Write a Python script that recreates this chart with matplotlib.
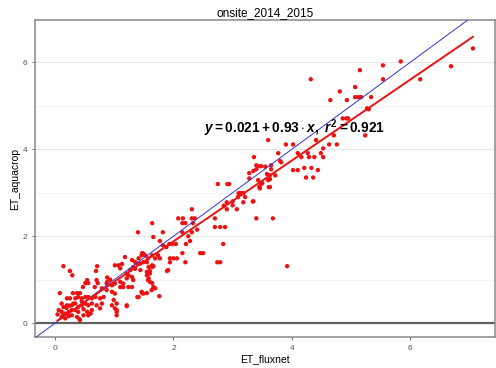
import numpy as np
import matplotlib
matplotlib.use("Agg")
import matplotlib.pyplot as plt

plt.rcParams['font.family'] = ['Liberation Sans', 'DejaVu Sans']
plt.rcParams['mathtext.fontset'] = 'custom'
plt.rcParams['mathtext.rm'] = 'Liberation Sans:bold'
plt.rcParams['mathtext.it'] = 'Liberation Sans:italic:bold'
plt.rcParams['mathtext.bf'] = 'Liberation Sans:bold'

title = "onsite_2014_2015"
xlabel = "ET_fluxnet"
ylabel = "ET_aquacrop"

# ET_fluxnet (x) and ET_aquacrop (y)
et_flux = [
    # upper part
    7.06, 6.69, 5.84, 5.54, 5.54, 6.17, 5.15, 4.32, 4.81, 5.07, 5.07, 5.12, 5.17, 5.34, 4.93, 4.65,
    5.27, 5.30, 4.86, 4.92, 4.95, 5.24, 4.71,
    3.60, 3.90, 4.02, 4.41, 4.63, 4.76, 4.53, 3.77, 4.10, 4.27, 4.29, 4.49, 4.53, 4.38, 4.16, 3.36,
    3.82, 3.43, 3.48, 3.55, 4.02, 4.10, 4.21, 4.33, 4.44, 3.28, 3.35, 3.63, 3.72, 4.24, 4.36,
    3.40, 3.40, 3.65, 3.65, 3.80, 3.28, 3.58, 3.63, 3.60, 3.43, 3.46, 3.48, 3.63, 3.13, 3.18, 3.21,
    3.18, 3.35, 3.07, 3.40, 3.68, 3.00, 3.92, 3.34, 3.45, 3.61,
    # middle part
    2.75, 2.91, 2.94, 3.50, 3.10, 2.85, 2.90, 2.31, 2.08, 2.15, 2.20, 2.16, 2.31, 2.33, 2.36, 2.70,
    1.64, 2.70, 2.79, 2.87, 1.82, 2.15, 2.31, 1.66, 2.28, 1.77, 1.93, 1.98, 2.04, 2.21, 2.84, 1.82,
    1.88, 1.47, 1.52, 2.15, 2.45, 2.50, 1.77, 1.94, 2.00, 2.06, 2.20, 2.74, 2.79, 1.94, 1.64, 1.66,
    1.44, 1.89, 1.60, 1.55, 1.57, 1.64, 1.69, 1.40, 1.91, 1.76, 1.47, 1.55, 1.39, 1.64, 3.00, 3.09,
    3.16, 2.90, 1.49, 1.55, 1.57, 1.64, 2.25, 2.40,
    # x 0.8 - 1.8
    1.01, 1.07, 1.13, 1.10, 1.30, 1.35, 1.41, 1.46, 1.49, 1.44, 1.38, 1.32, 1.27, 1.21, 1.18, 1.21,
    1.30, 1.32, 1.10, 1.15, 1.01, 0.96, 0.87, 1.10, 1.15, 1.24, 1.30, 0.96, 1.01, 0.87, 0.79, 0.99,
    1.04, 0.96, 1.01, 1.04, 1.21, 1.58, 1.60, 1.55, 1.58, 1.60, 1.66, 1.63, 1.46, 1.41, 1.49, 1.69,
    1.74, 0.82, 0.76, 0.79, 1.21, 1.04, 1.04, 0.93, 0.88, 0.88, 1.24, 1.35,
    # x 0 - 0.8
    0.14, 0.25, 0.29, 0.71, 0.69, 0.08, 0.54, 0.51, 0.47, 0.56, 0.70, 0.72, 0.67, 0.30, 0.37, 0.42,
    0.20, 0.25, 0.34, 0.39, 0.45, 0.51, 0.56, 0.62, 0.68,
    0.11, 0.14, 0.20, 0.28, 0.34, 0.39, 0.45, 0.51, 0.56, 0.62, 0.70,
    0.06, 0.11, 0.17, 0.23, 0.28, 0.34, 0.39, 0.48, 0.54, 0.62, 0.76,
    0.11, 0.17, 0.23, 0.28, 0.37, 0.42, 0.48, 0.56,
    0.04, 0.14, 0.41, 0.60, 0.31, 0.19, 0.45, 0.24,
]
et_aqua = [
    # upper part
    6.32, 5.91, 6.02, 5.93, 5.61, 5.61, 5.82, 5.61, 5.33, 5.43, 5.20, 5.20, 5.20, 5.20, 5.13, 5.13,
    4.94, 4.92, 4.71, 4.71, 4.71, 4.32, 4.32,
    4.21, 4.11, 4.11, 4.21, 4.11, 4.11, 4.02, 3.91, 3.91, 3.91, 3.82, 3.91, 3.82, 3.82, 3.82, 3.82,
    3.70, 3.61, 3.61, 3.60, 3.52, 3.52, 3.57, 3.57, 3.52, 3.45, 3.50, 3.40, 3.40, 3.35, 3.35,
    3.63, 3.54, 3.63, 3.54, 3.73, 3.33, 3.43, 3.31, 3.29, 3.29, 3.10, 3.20, 3.13, 2.99, 2.99, 2.90,
    2.78, 2.80, 2.62, 2.41, 2.41, 2.80, 1.31, 2.80, 3.13, 3.13,
    # middle part
    3.20, 3.20, 3.20, 3.22, 2.99, 2.70, 2.62, 2.62, 2.41, 2.30, 2.30, 2.41, 2.41, 2.30, 2.41, 2.41,
    2.30, 2.21, 2.21, 2.21, 2.09, 2.09, 2.09, 1.98, 1.89, 1.89, 1.82, 1.82, 1.82, 1.82, 1.82, 1.79,
    1.75, 1.61, 1.56, 1.61, 1.61, 1.61, 1.49, 1.49, 1.49, 1.49, 1.40, 1.40, 1.40, 1.40, 1.29, 1.31,
    1.22, 1.20, 1.20, 1.10, 0.99, 0.92, 0.80, 2.09, 1.22, 0.62, 0.69, 0.69, 0.60, 1.33, 2.71, 2.90,
    2.99, 2.78, 1.40, 1.40, 1.49, 1.56, 2.00, 2.15,
    # x 0.8 - 1.8
    1.33, 1.33, 1.36, 1.26, 1.45, 1.41, 1.49, 1.56, 1.60, 1.37, 1.37, 1.29, 1.22, 1.14, 1.52, 1.03,
    1.06, 0.99, 0.95, 0.91, 0.91, 0.87, 0.91, 0.83, 0.83, 0.83, 0.83, 0.72, 0.68, 0.76, 0.80, 0.53,
    0.45, 0.41, 0.34, 0.26, 0.41, 1.29, 1.14, 1.18, 1.03, 0.95, 0.83, 0.76, 0.72, 0.60, 0.68, 1.49,
    1.56, 0.60, 0.57, 0.45, 0.39, 0.30, 0.18, 1.00, 0.95, 1.05, 1.10, 1.25,
    # x 0 - 0.8
    1.31, 1.20, 1.10, 1.31, 1.20, 0.69, 0.99, 0.92, 0.83, 0.92, 0.99, 0.92, 0.83, 0.69, 0.69, 0.69,
    0.57, 0.57, 0.57, 0.60, 0.57, 0.60, 0.60, 0.57, 0.60,
    0.45, 0.37, 0.41, 0.41, 0.45, 0.37, 0.41, 0.45, 0.41, 0.45, 0.41,
    0.30, 0.26, 0.22, 0.26, 0.30, 0.30, 0.26, 0.32, 0.26, 0.30, 0.34,
    0.14, 0.11, 0.16, 0.18, 0.14, 0.07, 0.18, 0.18,
    0.20, 0.18, 0.09, 0.22, 0.45, 0.35, 0.50, 0.40,
]

# fitted line from the picture
intercept = 0.021
slope = 0.93
r2 = 0.921

x = np.array(et_flux)
y = np.array(et_aqua)

fig = plt.figure(figsize=(4.96, 3.68), dpi=100)
ax = fig.add_axes([0.0706, 0.0842, 0.927, 0.861])

ax.set_xlim(-0.34, 7.43)
ax.set_ylim(-0.32, 6.97)

# faint grid
for yy in [1, 3, 5]:
    ax.axhline(yy, color='#f3f3f3', lw=0.8, zorder=0)
for yy in [2, 4, 6]:
    ax.axhline(yy, color='#e6e6e6', lw=0.8, zorder=0)
ax.axhline(0, color='#606060', lw=1.6, zorder=1)

ax.scatter(x, y, s=10, color='#ee1111', edgecolors='none', zorder=3)

# 1:1 line
ax.plot([-1, 8], [-1, 8], color='#3333cc', lw=0.7, zorder=4)
# regression line
xf = np.array([x.min(), x.max()])
ax.plot(xf, intercept + slope * xf, color='#ee1111', lw=1.4, zorder=4)

ax.text(4.05, 4.48,
        r'$y = %.3f + %.2f \cdot x,\ r^2 = %.3f$' % (intercept, slope, r2),
        ha='center', va='center', fontsize=9.8, color='black', zorder=5)

ax.set_xticks([0, 2, 4, 6])
ax.set_yticks([0, 2, 4, 6])
ax.tick_params(labelsize=6, colors='#555555', length=2, width=0.6)
for s in ax.spines.values():
    s.set_color('#888888')
    s.set_linewidth(1.1)

ax.set_title(title, fontsize=8.5, pad=3)
ax.set_xlabel(xlabel, fontsize=7.5, labelpad=2)
ax.set_ylabel(ylabel, fontsize=7.5, labelpad=2)

fig.savefig("out.png", dpi=100)
